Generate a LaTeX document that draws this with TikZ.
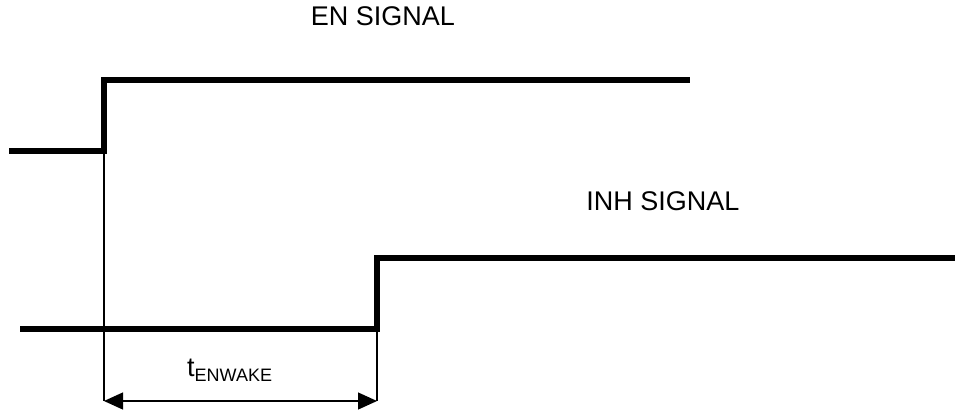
\documentclass[tikz,border=0pt]{standalone}
\usepackage{fontspec}
\setmainfont{Liberation Sans}
\usetikzlibrary{arrows.meta}

\begin{document}
\begin{tikzpicture}[x=1pt,y=-1pt]
\useasboundingbox (0,0) rectangle (955,413);

\tikzset{signal/.style = {line width=5.5pt, line join=miter}}
\tikzset{guide/.style = {line width=1.3pt}}
\tikzset{wakespan/.style = {line width=1.3pt, {Triangle[length=19pt,width=17pt]}-{Triangle[length=19pt,width=17pt]}}}
\tikzset{sigtext/.style = {font=\fontsize{27}{32}\selectfont, inner sep=0pt}}

% EN signal corners
\coordinate (en0) at (9,151);
\coordinate (en1) at (104,151);
\coordinate (en2) at (104,80);
\coordinate (en3) at (690,80);
% INH signal corners
\coordinate (inh0) at (20,329);
\coordinate (inh1) at (377,329);
\coordinate (inh2) at (377,258);
\coordinate (inh3) at (955,258);
% guide ends
\coordinate (g0) at (104,401);
\coordinate (g1) at (377,401);

\node[sigtext] (enlabel) at (383,16) {EN SIGNAL};
\node[sigtext] (inhlabel) at (663,201) {INH SIGNAL};
\node[sigtext, anchor=base west] (wake) at (187,376) {t\raisebox{-5pt}{\fontsize{18}{21}\selectfont ENWAKE}};

%signals
\draw[signal] (en0) -- (en1) -- (en2) -- (en3);
\draw[signal] (inh0) -- (inh1) -- (inh2) -- (inh3);

%guides
\draw[guide] (en1) -- (g0);
\draw[guide] (inh1) -- (g1);
\draw[wakespan] (g0) -- (g1);
\end{tikzpicture}
\end{document}
